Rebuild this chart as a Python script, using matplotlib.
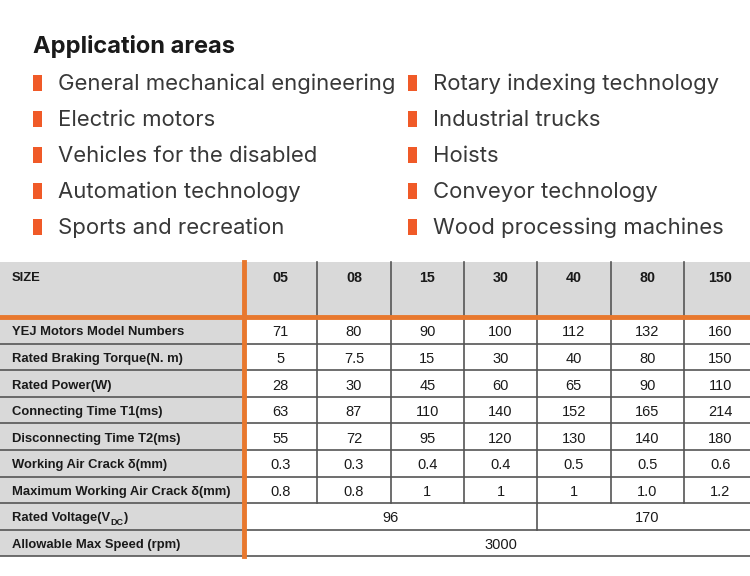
import matplotlib
matplotlib.use("Agg")
import matplotlib.pyplot as plt
from matplotlib.patches import Rectangle

# Data
title = "Application areas"
areas_left = ["General mechanical engineering", "Electric motors",
              "Vehicles for the disabled", "Automation technology",
              "Sports and recreation"]
areas_right = ["Rotary indexing technology", "Industrial trucks", "Hoists",
               "Conveyor technology", "Wood processing machines"]

sizes = ["05", "08", "15", "30", "40", "80", "150"]
row_labels = ["YEJ Motors Model Numbers", "Rated Braking Torque(N. m)",
              "Rated Power(W)", "Connecting Time T1(ms)",
              "Disconnecting Time T2(ms)", "Working Air Crack \u03b4(mm)",
              "Maximum Working Air Crack \u03b4(mm)"]
model_numbers = ["71", "80", "90", "100", "112", "132", "160"]
braking_torque = ["5", "7.5", "15", "30", "40", "80", "150"]
rated_power = ["28", "30", "45", "60", "65", "90", "110"]
connect_time = ["63", "87", "110", "140", "152", "165", "214"]
disconnect_time = ["55", "72", "95", "120", "130", "140", "180"]
air_gap = ["0.3", "0.3", "0.4", "0.4", "0.5", "0.5", "0.6"]
max_air_gap = ["0.8", "0.8", "1", "1", "1", "1.0", "1.2"]
rows = [model_numbers, braking_torque, rated_power, connect_time,
        disconnect_time, air_gap, max_air_gap]
# merged rows: (value, first col, last col)
voltage = [("96", 0, 3), ("170", 4, 6)]
max_speed = [("3000", 0, 6)]

ORANGE = "#e8782e"
BULLET = "#f05a28"
GRAY = "#d9d9d9"
LINE = "#555555"
TXT = "#1a1a1a"
TFONT = ["Liberation Sans", "DejaVu Sans"]
HFONT = ["Inter", "DejaVu Sans"]

fig = plt.figure(figsize=(7.5, 5.76), dpi=100)
ax = fig.add_axes([0, 0, 1, 1])
ax.set_xlim(0, 750)
ax.set_ylim(576, 0)
ax.axis("off")

# Application areas
ax.text(33, 53, title, fontsize=17, fontweight="bold", family=HFONT,
        color=TXT, va="baseline", ha="left")
for col, items in ((0, areas_left), (1, areas_right)):
    bx = 33 if col == 0 else 408
    for i, s in enumerate(items):
        yb = 90.5 + 36 * i
        ax.add_patch(Rectangle((bx, yb - 16), 8.5, 16, color=BULLET, lw=0))
        ax.text(bx + 25, yb, s, fontsize=15.9, family=HFONT, fontweight="normal",
                color="#383838", va="baseline", ha="left")

# Table geometry
x0, xl = 0, 244
cw = 73.3
top, hbot = 262, 317
rh = 26.6
nrows = len(rows) + 2
bottom = hbot + rh * nrows
xr = xl + cw * len(sizes)

ax.add_patch(Rectangle((x0, top), xl - x0, bottom - top, color=GRAY, lw=0))
ax.add_patch(Rectangle((xl, top), xr - xl, hbot - top, color=GRAY, lw=0))

def yrow(i):
    return hbot + rh * i

# horizontal lines
for i in range(1, nrows + 1):
    ax.plot([x0, xr], [yrow(i), yrow(i)], color=LINE, lw=1.2, zorder=2)

# vertical lines
for j in range(1, len(sizes)):
    x = xl + cw * j
    ax.plot([x, x], [top, yrow(len(rows))], color=LINE, lw=1.2, zorder=2)
ax.plot([xl + cw * 4] * 2, [yrow(len(rows)), yrow(len(rows) + 1)],
        color=LINE, lw=1.2, zorder=2)

# orange lines
ax.plot([x0, xr], [hbot - 0.5, hbot - 0.5], color=ORANGE, lw=3.5, zorder=3)
ax.plot([xl, xl], [top, bottom], color=ORANGE, lw=3.5, zorder=3)

vkw = dict(family=TFONT, fontsize=10.5, color=TXT)
lkw = dict(family=TFONT, fontsize=9.4, color=TXT, fontweight="bold")
dy = 2  # text sits a little below the cell centre

# header
ax.text(12, 276 + dy, "SIZE", va="center", ha="left", **lkw)
for j, s in enumerate(sizes):
    ax.text(xl + cw * (j + 0.5), 276 + dy, s, va="center", ha="center",
            family=TFONT, fontsize=10.3, color=TXT, fontweight="bold")

# body
for i, (lab, vals) in enumerate(zip(row_labels, rows)):
    yc = yrow(i) + rh / 2 + dy
    ax.text(12, yc, lab, va="center", ha="left", **lkw)
    for j, v in enumerate(vals):
        ax.text(xl + cw * (j + 0.5), yc, v, va="center", ha="center", **vkw)

# merged rows
fig.canvas.draw()
rend = fig.canvas.get_renderer()
yc = yrow(len(rows)) + rh / 2 + dy
t1 = ax.text(12, yc, "Rated Voltage(V", va="center", ha="left", **lkw)
bb = t1.get_window_extent(rend)
xe = ax.transData.inverted().transform((bb.x1, bb.y0))[0]
t2 = ax.text(xe, yc + 4, "DC", fontweight="bold", va="center", ha="left",
             family=TFONT, fontsize=6.5, color=TXT)
bb2 = t2.get_window_extent(rend)
xe2 = ax.transData.inverted().transform((bb2.x1, bb2.y0))[0]
ax.text(xe2, yc, ")", va="center", ha="left", **lkw)
for v, a, b in voltage:
    ax.text(xl + cw * (a + b + 1) / 2, yc, v, va="center", ha="center", **vkw)

yc = yrow(len(rows) + 1) + rh / 2 + dy
ax.text(12, yc, "Allowable Max Speed (rpm)", va="center", ha="left", **lkw)
for v, a, b in max_speed:
    ax.text(xl + cw * (a + b + 1) / 2, yc, v, va="center", ha="center", **vkw)

fig.savefig("out.png", dpi=100)
